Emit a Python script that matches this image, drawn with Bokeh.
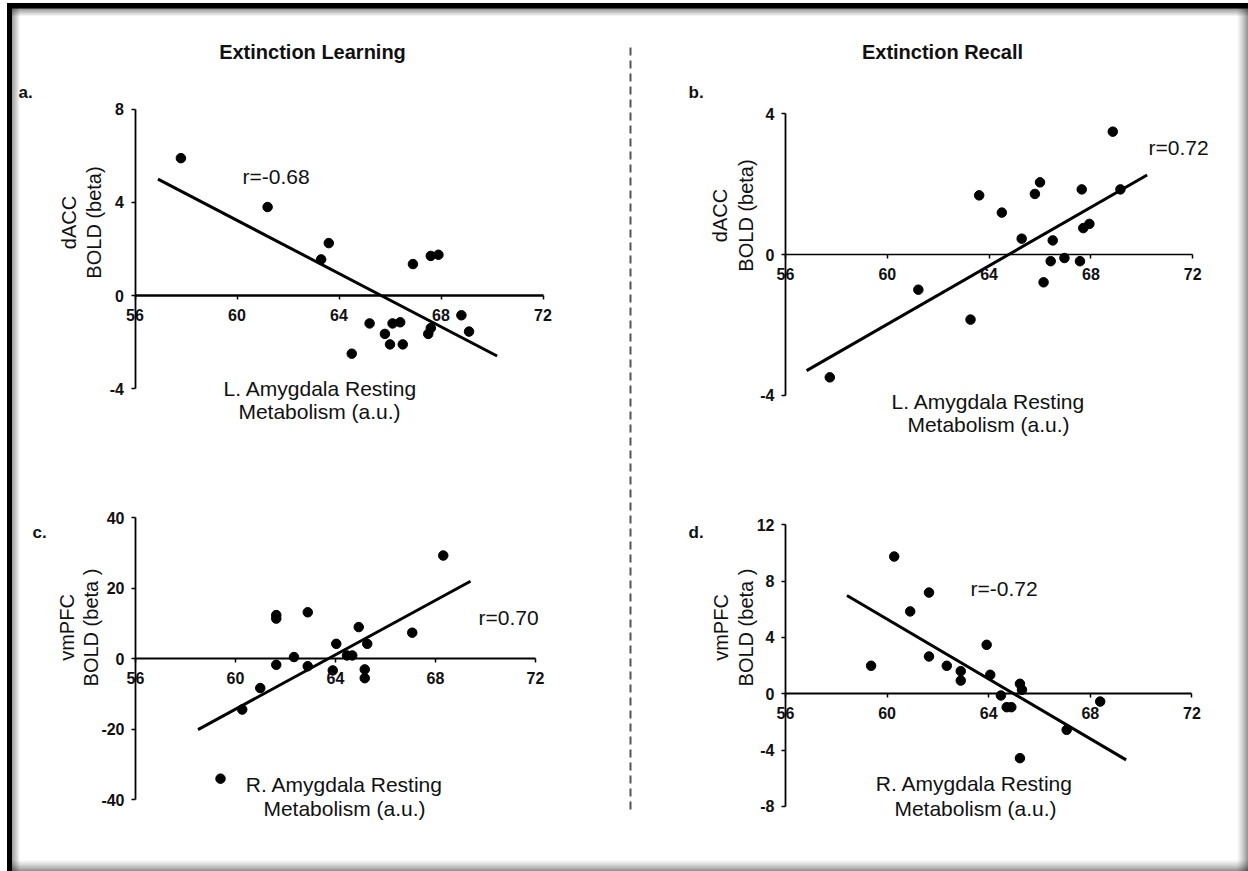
import numpy as np
from bokeh.plotting import figure
from bokeh.models import Range1d, LinearAxis, FixedTicker
from bokeh.embed import file_html
from bokeh.resources import INLINE
from bokeh.core.properties import value

W, H = 1248, 871

# ---------------- data ----------------
x_ticks = [56, 60, 64, 68, 72]

# a. Extinction Learning: L. Amygdala vs dACC
a_x = [57.8, 61.2, 63.6, 63.3, 66.9, 67.6, 67.9, 68.8, 69.1, 65.2, 66.1, 66.4,
       65.8, 66.0, 66.5, 64.5, 67.5, 67.6]
a_y = [5.9, 3.8, 2.25, 1.55, 1.35, 1.7, 1.75, -0.85, -1.55, -1.2, -1.2, -1.15,
       -1.65, -2.1, -2.1, -2.5, -1.65, -1.4]
a_fit_x = [56.9, 70.2]
a_fit_y = [5.0, -2.6]
a_yticks = [-4, 0, 4, 8]

# b. Extinction Recall: L. Amygdala vs dACC
b_x = [68.86, 63.61, 64.5, 66.0, 65.8, 67.64, 69.16, 67.94, 67.7, 65.28, 66.5,
       66.42, 66.96, 67.57, 66.14, 61.22, 63.27, 57.74]
b_y = [3.49, 1.68, 1.19, 2.05, 1.72, 1.85, 1.85, 0.87, 0.75, 0.45, 0.40,
       -0.19, -0.10, -0.19, -0.79, -1.0, -1.85, -3.49]
b_fit_x = [56.83, 70.21]
b_fit_y = [-3.30, 2.26]
b_yticks = [-4, 0, 4]

# c. Extinction Learning: R. Amygdala vs vmPFC
c_x = [68.31, 61.63, 61.63, 62.89, 64.93, 67.07, 64.03, 65.27, 62.34, 64.46,
       64.67, 61.63, 62.89, 63.89, 65.17, 65.17, 60.99, 60.27]
c_y = [29.3, 12.4, 11.4, 13.2, 9.0, 7.4, 4.25, 4.25, 0.5, 0.95, 0.95, -1.7,
       -2.1, -3.3, -3.0, -5.5, -8.3, -14.4]
c_fit_x = [58.5, 69.4]
c_fit_y = [-20.1, 22.0]
c_legend_x = [59.4]
c_legend_y = [-34.0]
c_yticks = [-40, -20, 0, 20, 40]

# d. Extinction Recall: R. Amygdala vs vmPFC
d_x = [60.28, 61.65, 60.91, 63.92, 59.37, 61.65, 62.35, 62.9, 62.9, 64.06,
       65.23, 65.31, 64.48, 64.71, 64.89, 68.39, 67.07, 65.23]
d_y = [9.75, 7.19, 5.85, 3.48, 1.99, 2.65, 1.99, 1.61, 0.94, 1.35, 0.71, 0.28,
       -0.12, -0.95, -0.95, -0.55, -2.56, -4.57]
d_fit_x = [58.42, 69.41]
d_fit_y = [6.98, -4.69]
d_yticks = [-8, -4, 0, 4, 8, 12]

col_titles = ["Extinction Learning", "Extinction Recall"]
panel_tags = ["a.", "b.", "c.", "d."]
r_texts = ["r=-0.68", "r=0.72", "r=0.70", "r=-0.72"]
xlab1 = ["L. Amygdala Resting", "L. Amygdala Resting", "R. Amygdala Resting", "R. Amygdala Resting"]
xlab2 = ["Metabolism (a.u.)"] * 4
ylab1 = ["dACC", "dACC", "vmPFC", "vmPFC"]
ylab2 = ["BOLD (beta)", "BOLD (beta)", "BOLD (beta )", "BOLD (beta )"]

# ---------------- layout (canvas pixels) ----------------
# (x of 56, px per x unit, y of 0, px per y unit)
geom = {
    "a": (134.5, 25.5, 295.0, 23.28),
    "b": (785.0, 25.45, 254.0, 35.2),
    "c": (135.0, 25.0, 658.3, 3.525),
    "d": (785.0, 25.4, 693.3, 14.08),
}
xaxis_w = {"a": 2.5, "b": 1.4, "c": 2.0, "d": 2.0}
panel_data = {
    "a": (a_x, a_y, a_fit_x, a_fit_y, a_yticks),
    "b": (b_x, b_y, b_fit_x, b_fit_y, b_yticks),
    "c": (c_x, c_y, c_fit_x, c_fit_y, c_yticks),
    "d": (d_x, d_y, d_fit_x, d_fit_y, d_yticks),
}

p = figure(width=W, height=H, x_range=Range1d(0, W), y_range=Range1d(H, 0),
           x_axis_type=None, y_axis_type=None, toolbar_location=None,
           output_backend="svg", min_border=0, title=None)
p.outline_line_color = None
p.background_fill_color = "white"
p.border_fill_color = "white"

exr, eyr = {}, {}
for k, (x56, xs, y0, ys) in geom.items():
    xst = 56 - x56 / xs
    exr[k] = Range1d(xst, xst + W / xs)
    eyr[k] = Range1d((y0 - H) / ys, y0 / ys)
p.extra_x_ranges = exr
p.extra_y_ranges = eyr

FONT = value("Liberation Sans")

# ---------------- frame decorations ----------------
n = 8
gi = np.arange(n)
fade = (0.42 * (1 - gi / n)).tolist()
m = 12
gj = np.arange(m)
grow = (0.5 * ((gj + 1) / m) ** 1.5).tolist()
# top and left: black rule with inner shadow
p.quad(left=[7], right=[W], top=[3], bottom=[7.5], color="black")
p.quad(left=[7] * n, right=[W] * n, top=(7.5 + gi).tolist(), bottom=(8.5 + gi).tolist(),
       fill_color="black", fill_alpha=fade, line_color=None)
p.quad(left=[7], right=[11], top=[3], bottom=[H], color="black")
p.quad(left=(11 + gi).tolist(), right=(12 + gi).tolist(), top=[7.5] * n, bottom=[H] * n,
       fill_color="black", fill_alpha=fade, line_color=None)
# right and bottom: outer shadow
p.quad(left=(W - m + gj).tolist(), right=(W - m + 1 + gj).tolist(), top=[7.5] * m, bottom=[H] * m,
       fill_color="black", fill_alpha=grow, line_color=None)
p.quad(left=[11] * m, right=[W] * m, top=(H - m + gj).tolist(), bottom=(H - m + 1 + gj).tolist(),
       fill_color="black", fill_alpha=grow, line_color=None)

# dashed divider
p.line([630, 630], [47, 813], line_color="#555555", line_width=2, line_dash="8 5")

# ---------------- panels ----------------
for k, (px_, py_, fx, fy, yt) in panel_data.items():
    tick_style = dict(major_tick_out=4, major_tick_in=0, major_tick_line_width=1.5,
                      minor_tick_out=0, minor_tick_in=0,
                      major_label_text_font="Liberation Sans",
                      major_label_text_font_style="bold",
                      major_label_text_font_size="16px",
                      major_label_text_color="#111111")
    xaxis = LinearAxis(x_range_name=k, y_range_name=k, fixed_location=0, bounds=(56, 72),
                       ticker=FixedTicker(ticks=x_ticks),
                       axis_line_width=xaxis_w[k], axis_line_color="black",
                       major_label_standoff=9, **tick_style)
    p.add_layout(xaxis, "below")
    yaxis = LinearAxis(x_range_name=k, y_range_name=k, fixed_location=56, bounds=(yt[0], yt[-1]),
                       ticker=FixedTicker(ticks=yt),
                       axis_line_width=1.8, axis_line_color="black",
                       major_label_standoff=7,
                       major_label_overrides={float(t): str(t) for t in yt if t < 0},
                       **tick_style)
    p.add_layout(yaxis, "left")
    p.line(fx, fy, line_color="black", line_width=3, x_range_name=k, y_range_name=k)
    p.scatter(px_, py_, size=9.5, color="black", x_range_name=k, y_range_name=k)

p.scatter(c_legend_x, c_legend_y, size=9.5, color="black", x_range_name="c", y_range_name="c")

# ---------------- texts (canvas pixel positions) ----------------
p.text(x=[312, 942], y=[51, 51], text=col_titles, text_font=FONT, text_font_style="bold",
       text_font_size="20px", text_align="center", text_baseline="alphabetic", text_color="#111111")
p.text(x=[18, 688, 32, 688], y=[92, 92, 532, 532], text=panel_tags, text_font=FONT,
       text_font_style="bold", text_font_size="17px", text_align="left",
       text_baseline="alphabetic", text_color="#111111")
p.text(x=[242, 1148, 478, 970], y=[176, 147, 617, 588], text=r_texts, text_font=FONT,
       text_font_size="21px", text_align="left", text_baseline="alphabetic", text_color="#111111")
p.text(x=[320, 988, 344, 974], y=[388, 401, 784, 783], text=xlab1, text_font=FONT,
       text_font_size="21px", text_align="center", text_baseline="alphabetic", text_color="#111111")
p.text(x=[319, 988, 344, 975], y=[411, 424, 808, 808], text=xlab2, text_font=FONT,
       text_font_size="21px", text_align="center", text_baseline="alphabetic", text_color="#111111")
p.text(x=[68, 719, 66, 720], y=[222, 215, 627, 627], text=ylab1, text_font=FONT,
       text_font_size="20px", text_align="center", text_baseline="middle", angle=np.pi / 2,
       text_color="#111111")
p.text(x=[93, 745, 90, 745], y=[222, 215, 627, 627], text=ylab2, text_font=FONT,
       text_font_size="20px", text_align="center", text_baseline="middle", angle=np.pi / 2,
       text_color="#111111")

open("out.html", "w").write(file_html(p, INLINE))
